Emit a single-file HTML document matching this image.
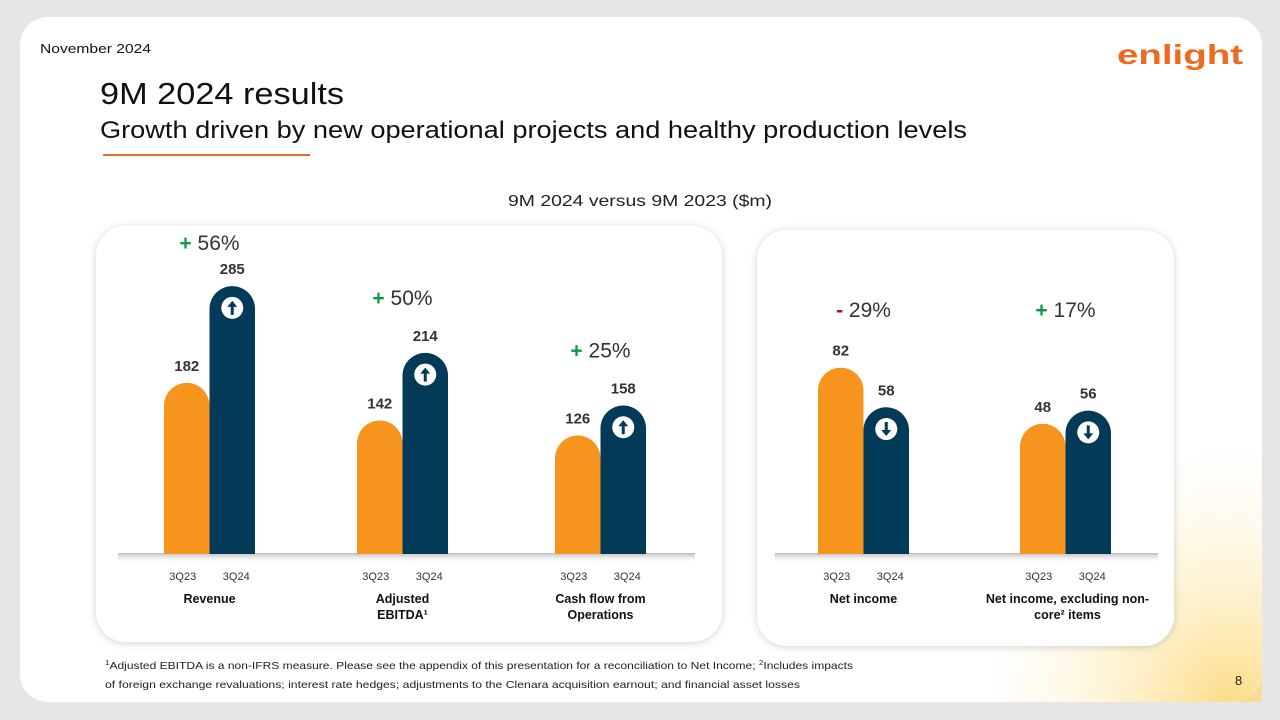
<!DOCTYPE html>
<html><head><meta charset="utf-8"><style>
html,body{margin:0;padding:0;background:#e6e6e6;}
svg{display:block;font-family:"Liberation Sans","DejaVu Sans",sans-serif;}
</style></head><body>
<svg id="s" width="1280" height="720" viewBox="0 0 1280 720" xmlns="http://www.w3.org/2000/svg">
<defs>
<radialGradient id="glow" cx="1230" cy="700" r="260" gradientUnits="userSpaceOnUse">
<stop offset="0" stop-color="#fbd56a" stop-opacity="0.8"/><stop offset="1" stop-color="#fff6d8" stop-opacity="0"/></radialGradient>
<filter id="sh" x="-10%" y="-10%" width="120%" height="120%"><feDropShadow dx="0" dy="1" stdDeviation="4" flood-color="#000" flood-opacity="0.18"/></filter>
<linearGradient id="base" x1="0" y1="0" x2="0" y2="1"><stop offset="0" stop-color="#bbb"/><stop offset="1" stop-color="#fff" stop-opacity="0"/></linearGradient>
</defs>
<rect x="0" y="0" width="1280" height="720" fill="#e6e6e6"/>
<rect x="20" y="17" width="1242" height="685" rx="28" fill="#fff"/>
<rect x="1000" y="450" width="262" height="252" fill="url(#glow)"/>
<text x="40" y="53" font-size="13" fill="#111" textLength="111" lengthAdjust="spacingAndGlyphs">November 2024</text>
<text x="1117" y="64" font-size="28" font-weight="bold" fill="#ec6b1f" textLength="126" lengthAdjust="spacingAndGlyphs">enlight</text>
<text x="100" y="104" font-size="31" fill="#111" textLength="244" lengthAdjust="spacingAndGlyphs">9M 2024 results</text>
<text x="100" y="138" font-size="24" fill="#111" textLength="867" lengthAdjust="spacingAndGlyphs">Growth driven by new operational projects and healthy production levels</text>
<rect x="103" y="154" width="207" height="2" fill="#e0712c"/>
<text x="508" y="206" font-size="16" fill="#222" textLength="264" lengthAdjust="spacingAndGlyphs">9M 2024 versus 9M 2023 ($m)</text>
<rect x="96" y="226" width="626" height="416" rx="30" fill="#fff" filter="url(#sh)"/>
<rect x="757" y="230" width="417" height="416" rx="30" fill="#fff" filter="url(#sh)"/>
<rect x="118" y="553" width="577" height="10" fill="url(#base)"/>
<rect x="775" y="553" width="383" height="10" fill="url(#base)"/>
<g id="bars"></g>
<text x="105" y="669" font-size="10.5" fill="#222" textLength="748" lengthAdjust="spacingAndGlyphs"><tspan font-size="7" dy="-4">1</tspan><tspan dy="4">Adjusted EBITDA is a non-IFRS measure. Please see the appendix of this presentation for a reconciliation to Net Income; </tspan><tspan font-size="7" dy="-4">2</tspan><tspan dy="4">Includes impacts</tspan></text>
<text x="105" y="688" font-size="10.5" fill="#222" textLength="695" lengthAdjust="spacingAndGlyphs">of foreign exchange revaluations; interest rate hedges; adjustments to the Clenara acquisition earnout; and financial asset losses</text>
<text x="1235" y="685" font-size="13" fill="#222">8</text>
</svg>
<script>
const categories = ["Revenue","Adjusted EBITDA¹","Cash flow from Operations","Net income","Net income, excluding non-core² items"];
const values2023 = [182,142,126,82,48];
const values2024 = [285,214,158,58,56];
const changeLabels = ["56%","50%","25%","29%","17%"];
const changeSigns = ["+","+","+","-","+"];
const NS="http://www.w3.org/2000/svg";
const g=document.getElementById('bars');
const baseY=554, bw=45.5;
const groupLeft=[164,357,555,818,1020];
const panelOf=[0,0,0,1,1];
function yScale(v,p){ return p===0 ? baseY - v*0.94 : baseY - (51 + v*1.65); }
function el(t,a){const e=document.createElementNS(NS,t);for(const k in a)e.setAttribute(k,a[k]);g.appendChild(e);return e;}
function pill(x,top,color){const r=bw/2;return `M${x},${baseY} L${x},${top+r} A${r},${r} 0 0 1 ${x+bw},${top+r} L${x+bw},${baseY} Z`;}
function txt(x,y,s,size,w,fill){const t=el('text',{x:x,y:y,'font-size':size,'font-weight':w,fill:fill,'text-anchor':'middle'});t.textContent=s;return t;}
categories.forEach((c,i)=>{
  const p=panelOf[i], x0=groupLeft[i], x1=x0+bw;
  const t0=yScale(values2023[i],p), t1=yScale(values2024[i],p);
  const b0=el('path',{d:pill(x0,t0),fill:'#f7941d'});
  
  
  const b1=el('path',{d:pill(x1,t1),fill:'#033a57'});
  
  
  const cx=x1+bw/2, cy=t1+bw/2-1;
  const ic=el('circle',{cx:cx,cy:cy,r:11,fill:'#fff'});
  
  
  const up=values2024[i]>=values2023[i]&&p===0;
  const ar=el('path',{d: up?`M${cx},${cy-7} l-5,6 h3.5 v8 h3 v-8 h3.5 Z`:`M${cx},${cy+7} l-5,-6 h3.5 v-8 h3 v8 h3.5 Z`,fill:'#033a57'});
  
  
  const v0=txt(x0+bw/2,t0-12,values2023[i],15,'bold','#333');
  
  
  const v1=txt(cx,t1-12,values2024[i],15,'bold','#333');
  
  
  const topY=Math.min(t0,t1);
  const py = p===0 ? Math.max(250, topY-48) : 317;
  const pc=el('text',{x:x1,y:py,'font-size':21,'text-anchor':'middle',fill:'#333'});
  pc.innerHTML=`<tspan fill="${changeSigns[i]==='+'?'#0f9a48':'#b0103a'}" font-weight="bold">${changeSigns[i]}</tspan> ${changeLabels[i]}`;
  
  
  const q0=txt(x0+bw/2-4,580,'3Q23',11,'normal','#333');
  
  
  const q1=txt(cx+4,580,'3Q24',11,'normal','#333');
  
  
  const lines = i===1?["Adjusted","EBITDA¹"]: i===2?["Cash flow from","Operations"]: i===4?["Net income, excluding non-","core² items"]:[c];
  lines.forEach((l,j)=>{const ct=txt(x1+(i===4?2:0),603+j*16,l,12.5,'bold','#111');
    
    });
});
</script>
</body></html>
